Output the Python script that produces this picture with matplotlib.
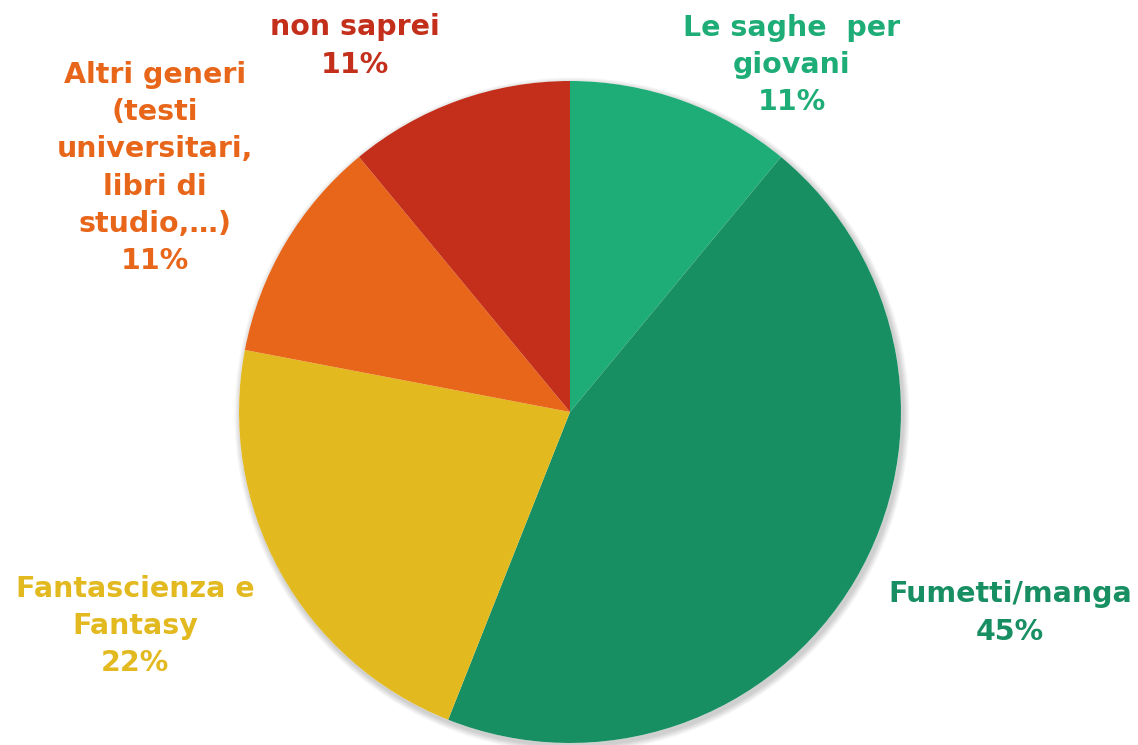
import matplotlib.pyplot as plt
from matplotlib.patches import Circle

labels = ["Le saghe  per\ngiovani", "Fumetti/manga", "Fantascienza e\nFantasy",
          "Altri generi\n(testi\nuniversitari,\nlibri di\nstudio,…)", "non saprei"]
values = [11, 45, 22, 11, 11]
colors = ["#1fad77", "#188f62", "#e3b920", "#e8661a", "#c32f1a"]

# label centres (pixel coords, y from top)
label_pos = [(792, 65), (1010, 613), (135, 626), (155, 168), (355, 46)]

W, H = 1138, 745
fig = plt.figure(figsize=(W / 100, H / 100), dpi=100)
ax = fig.add_axes([0, 0, 1, 1])

cx, cy, r = 570, H - 412, 331

# soft shadow
for k in range(8):
    ax.add_patch(Circle((cx + 2, cy - 3), r + 1 + k * 0.8, color="#000000",
                        alpha=0.025, lw=0, zorder=0))
ax.add_patch(Circle((cx, cy), r, color="white", lw=0, zorder=0.5))

ax.pie(values, colors=colors, startangle=90, counterclock=False,
       center=(cx, cy), radius=r, frame=True,
       wedgeprops=dict(linewidth=0))
ax.set_xlim(0, W)
ax.set_ylim(0, H)
ax.set_aspect("equal")
ax.axis("off")

for lab, v, c, (px, py) in zip(labels, values, colors, label_pos):
    ax.text(px, H - py, f"{lab}\n{v}%", color=c, ha="center", va="center",
            fontsize=20.5, fontweight="bold", family="DejaVu Sans",
            linespacing=1.42)

fig.savefig("out.png", dpi=100)
